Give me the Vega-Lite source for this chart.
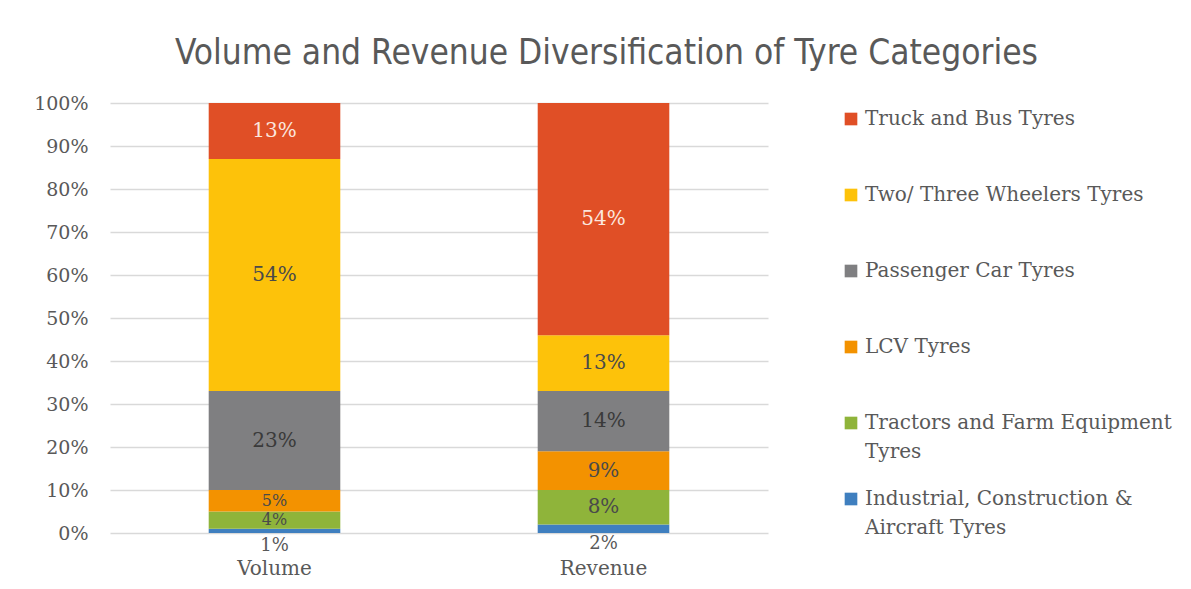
{
  "$schema": "https://vega.github.io/schema/vega-lite/v6.json",
  "autosize": "none",
  "width": 658,
  "height": 430,
  "padding": {"left": 110, "top": 103, "right": 423, "bottom": 56},
  "background": "white",
  "config": {
    "view": {"stroke": null},
    "style": {"guide-label": {"lineHeight": 29}}
  },
  "title": {
    "text": "Volume and Revenue Diversification of Tyre Categories",
    "font": "DejaVu Sans Condensed",
    "fontSize": 35,
    "fontWeight": "normal",
    "color": "#595959",
    "anchor": "start",
    "frame": "group",
    "dx": 65,
    "offset": 23
  },
  "data": {
    "values": [
      {"Measure": "Volume", "Category": "Industrial, Construction & Aircraft Tyres", "Share": 0.01},
      {"Measure": "Volume", "Category": "Tractors and Farm Equipment Tyres", "Share": 0.04},
      {"Measure": "Volume", "Category": "LCV Tyres", "Share": 0.05},
      {"Measure": "Volume", "Category": "Passenger Car Tyres", "Share": 0.23},
      {"Measure": "Volume", "Category": "Two/ Three Wheelers Tyres", "Share": 0.54},
      {"Measure": "Volume", "Category": "Truck and Bus Tyres", "Share": 0.13},
      {"Measure": "Revenue", "Category": "Industrial, Construction & Aircraft Tyres", "Share": 0.02},
      {"Measure": "Revenue", "Category": "Tractors and Farm Equipment Tyres", "Share": 0.08},
      {"Measure": "Revenue", "Category": "LCV Tyres", "Share": 0.09},
      {"Measure": "Revenue", "Category": "Passenger Car Tyres", "Share": 0.14},
      {"Measure": "Revenue", "Category": "Two/ Three Wheelers Tyres", "Share": 0.13},
      {"Measure": "Revenue", "Category": "Truck and Bus Tyres", "Share": 0.54}
    ]
  },
  "transform": [
    {"calculate": "indexof(['Industrial, Construction & Aircraft Tyres', 'Tractors and Farm Equipment Tyres', 'LCV Tyres', 'Passenger Car Tyres', 'Two/ Three Wheelers Tyres', 'Truck and Bus Tyres'], datum.Category)", "as": "StackOrder"}
  ],
  "encoding": {
    "x": {
      "field": "Measure",
      "type": "nominal",
      "sort": ["Volume", "Revenue"],
      "scale": {"paddingInner": 0.6, "paddingOuter": 0.3},
      "axis": {
        "title": null,
        "labelAngle": 0,
        "labelFont": "DejaVu Serif",
        "labelFontSize": 20,
        "labelColor": "#595959",
        "labelPadding": 25,
        "ticks": false,
        "domain": false
      }
    },
    "y": {
      "field": "Share",
      "type": "quantitative",
      "stack": "zero",
      "scale": {"domain": [0, 1], "nice": false},
      "axis": {
        "title": null,
        "values": [0, 0.1, 0.2, 0.3, 0.4, 0.5, 0.6, 0.7, 0.8, 0.9, 1],
        "format": ".0%",
        "labelFont": "DejaVu Serif",
        "labelFontSize": 19,
        "labelColor": "#595959",
        "labelPadding": 22,
        "ticks": false,
        "domain": false,
        "gridColor": "#D9D9D9",
        "gridWidth": 1.5
      }
    },
    "order": {"field": "StackOrder", "type": "quantitative", "sort": "ascending"}
  },
  "layer": [
    {
      "mark": {"type": "bar"},
      "encoding": {
        "color": {
          "field": "Category",
          "type": "nominal",
          "sort": [
            "Truck and Bus Tyres",
            "Two/ Three Wheelers Tyres",
            "Passenger Car Tyres",
            "LCV Tyres",
            "Tractors and Farm Equipment Tyres",
            "Industrial, Construction & Aircraft Tyres"
          ],
          "scale": {
            "domain": [
              "Truck and Bus Tyres",
              "Two/ Three Wheelers Tyres",
              "Passenger Car Tyres",
              "LCV Tyres",
              "Tractors and Farm Equipment Tyres",
              "Industrial, Construction & Aircraft Tyres"
            ],
            "range": ["#E04F26", "#FDC20A", "#7F7F81", "#F39200", "#8FB43A", "#3F7FBF"]
          },
          "legend": {
            "title": null,
            "orient": "none",
            "legendX": 731,
            "legendY": 6,
            "padding": 0,
            "labelExpr": "datum.label == 'Tractors and Farm Equipment Tyres' ? ['Tractors and Farm Equipment', 'Tyres'] : datum.label == 'Industrial, Construction & Aircraft Tyres' ? ['Industrial, Construction &', 'Aircraft Tyres'] : [datum.label, '']",
            "labelFont": "DejaVu Serif",
            "labelFontSize": 20,
            "labelColor": "#595959",
            "labelLimit": 400,
            "labelOffset": 4,
            "symbolType": "square",
            "symbolSize": 160,
            "symbolStrokeWidth": 0,
            "rowPadding": 27
          }
        }
      }
    },
    {
      "mark": {"type": "text", "font": "DejaVu Serif"},
      "encoding": {
        "y": {"field": "Share", "type": "quantitative", "stack": "zero", "bandPosition": 0.5},
        "size": {"condition": {"test": "datum.Share < 0.07", "value": 16}, "value": 20},
        "color": {
          "field": "Category",
          "type": "nominal",
          "scale": {
            "domain": [
              "Truck and Bus Tyres",
              "Two/ Three Wheelers Tyres",
              "Passenger Car Tyres",
              "LCV Tyres",
              "Tractors and Farm Equipment Tyres",
              "Industrial, Construction & Aircraft Tyres"
            ],
            "range": ["#FBE6DE", "#4A4A4A", "#3A3A3A", "#4A4A4A", "#4A4A4A", "#595959"]
          },
          "legend": null
        },
        "text": {
          "condition": {"test": "datum.Category == 'Industrial, Construction & Aircraft Tyres'", "value": ""},
          "field": "Share",
          "type": "quantitative",
          "format": ".0%"
        }
      }
    },
    {
      "transform": [{"filter": "datum.Category == 'Industrial, Construction & Aircraft Tyres'"}],
      "mark": {"type": "text", "font": "DejaVu Serif", "fontSize": 18, "dy": 15, "color": "#595959"},
      "encoding": {
        "y": {"field": "Share", "type": "quantitative", "stack": "zero", "bandPosition": 0.5},
        "text": {"field": "Share", "type": "quantitative", "format": ".0%"}
      }
    }
  ],
  "resolve": {"scale": {"color": "independent"}, "legend": {"color": "independent"}}
}
